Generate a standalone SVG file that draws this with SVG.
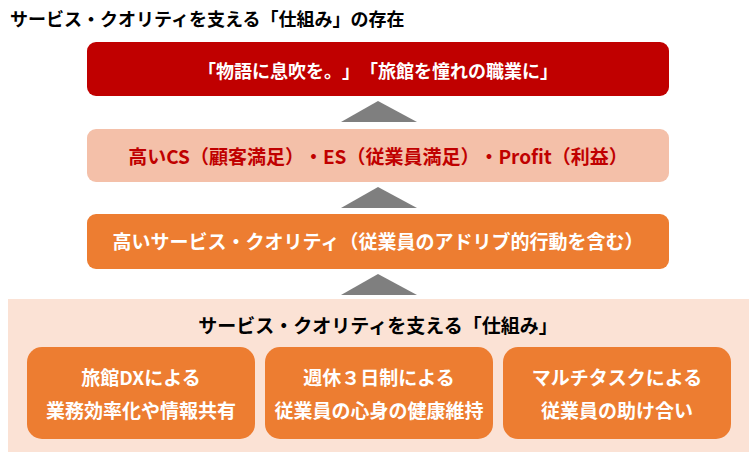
<svg xmlns="http://www.w3.org/2000/svg" width="749" height="452" viewBox="0 0 749 452">
<style>
text{font-family:"Noto Sans CJK JP","Noto Sans",sans-serif;font-weight:bold;font-feature-settings:"chws" 0,"halt" 0,"palt" 0;text-spacing-trim:space-all;}
.c{text-anchor:middle;}
.w{fill:#FFFFFF;}
.tri{fill:#7F7F7F;}
.ob{fill:#ED7D31;}
</style>
<rect x="0" y="0" width="749" height="452" fill="#FFFFFF"/>
<text id="title" x="10" y="26" font-size="18" fill="#000000">サービス・クオリティを支える「仕組み」の存在</text>
<g id="connectors">
<polygon class="tri" points="341,122 378,101 417,122"/>
<polygon class="tri" points="341,208 378,187 417,208"/>
<polygon class="tri" points="341,295 378,274 417,295"/>
</g>
<g id="goal">
<rect x="87" y="42" width="582" height="54" rx="9" fill="#C00000"/>
<text class="c w" x="378" y="78" font-size="18">「物語に息吹を。」「旅館を憧れの職業に」</text>
</g>
<g id="satisfaction">
<rect x="87" y="129" width="582" height="53" rx="9" fill="#F4C0A9"/>
<text class="c" x="378" y="164" font-size="19" fill="#C00000">高いCS（顧客満足）・ES（従業員満足）・Profit（利益）</text>
</g>
<g id="quality">
<rect class="ob" x="87" y="214" width="582" height="55" rx="9"/>
<text class="c w" x="378" y="249" font-size="19">高いサービス・クオリティ（従業員のアドリブ的行動を含む）</text>
</g>
<g id="mechanism">
<rect x="8" y="299" width="741" height="153" fill="#FBE2D5"/>
<text class="c" x="378" y="333" font-size="19" fill="#000000">サービス・クオリティを支える「仕組み」</text>
</g>
<g id="dx">
<rect class="ob" x="27" y="347" width="228" height="92" rx="15"/>
<text class="c w" x="141" y="385" font-size="19">旅館DXによる</text>
<text class="c w" x="141" y="418" font-size="19">業務効率化や情報共有</text>
</g>
<g id="holiday">
<rect class="ob" x="265" y="347" width="228" height="92" rx="15"/>
<text class="c w" x="379" y="385" font-size="19">週休３日制による</text>
<text class="c w" x="379" y="418" font-size="19">従業員の心身の健康維持</text>
</g>
<g id="multitask">
<rect class="ob" x="503" y="347" width="228" height="92" rx="15"/>
<text class="c w" x="617" y="385" font-size="19">マルチタスクによる</text>
<text class="c w" x="617" y="418" font-size="19">従業員の助け合い</text>
</g>
</svg>
